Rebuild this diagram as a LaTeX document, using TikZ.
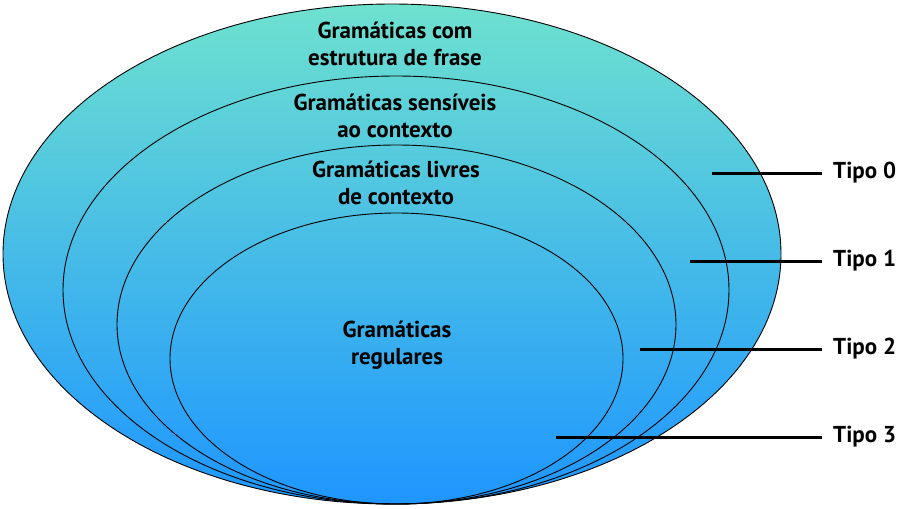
\documentclass[tikz,border=0pt]{standalone}
\usepackage{fontspec}
\setmainfont{PT Sans}
\usepackage{tikz}
\usetikzlibrary{positioning}
\definecolor{gtop}{RGB}{110,225,207}
\definecolor{gbot}{RGB}{30,150,255}

\begin{document}
\begin{tikzpicture}[x=1pt,y=-1pt,every node/.style={font=\bfseries\fontsize{23}{27}\selectfont, align=center, inner sep=0pt},ring/.style={draw, line width=0.9pt},pointer/.style={line width=3pt},tipo/.style={anchor=west, inner xsep=11pt}]
	
	\useasboundingbox (0,0) rectangle (903,509);
	
	\shade[top color=gtop, bottom color=gbot] (392,254) ellipse [x radius=389pt, y radius=250pt];
	\draw[ring] (392,254) ellipse [x radius=389pt, y radius=250pt];
	\draw[ring] (396,290) ellipse [x radius=333pt, y radius=214pt];
	\draw[ring] (396.5,324.5) ellipse [x radius=279.5pt, y radius=179.5pt];
	\draw[ring] (396.5,358.5) ellipse [x radius=226.5pt, y radius=145.5pt];
	
	\node (g0) at (395,44) {Gramáticas com\\estrutura de frase};
	\node (g1) at (395,116) {Gramáticas sensíveis\\ao contexto};
	\node (g2) at (396,183) {Gramáticas livres\\de contexto};
	\node (g3) at (397,345) {Gramáticas\\regulares};
	
	\node[tipo] (t0) at (822,173) {Tipo 0};
	\node[tipo, below=88pt of t0.west, anchor=west] (t1) {Tipo 1};
	\node[tipo, below=88pt of t1.west, anchor=west] (t2) {Tipo 2};
	\node[tipo, below=88pt of t2.west, anchor=west] (t3) {Tipo 3};
	
	\coordinate (p0) at (712,173);
	\coordinate (p1) at (690,261);
	\coordinate (p2) at (640,349);
	\coordinate (p3) at (556,437);
	
	\draw[pointer] (p0) -- (t0);
	\draw[pointer] (p1) -- (t1);
	\draw[pointer] (p2) -- (t2);
	\draw[pointer] (p3) -- (t3);
	
\end{tikzpicture}
\end{document}
